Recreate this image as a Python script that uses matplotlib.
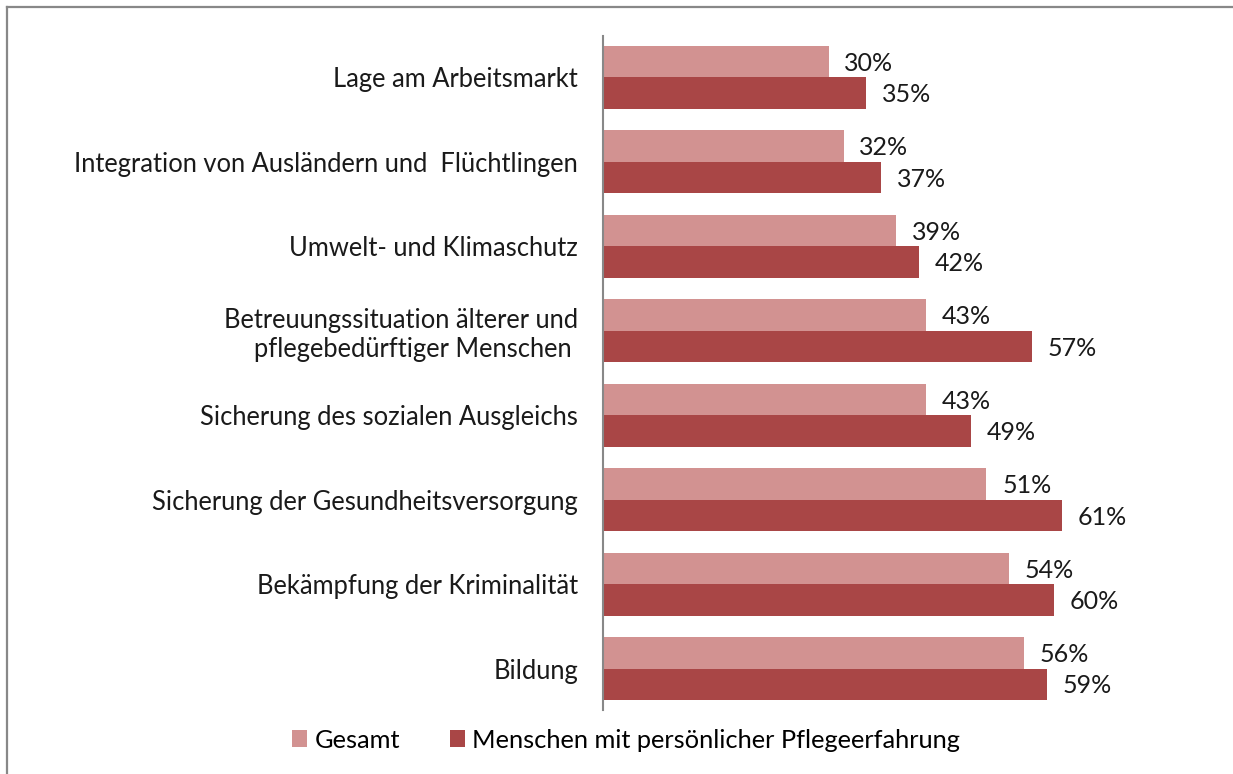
import matplotlib
matplotlib.use('Agg')
import matplotlib.pyplot as plt
import numpy as np

plt.rcParams['font.family'] = ['Lato', 'DejaVu Sans']

categories = [
    'Lage am Arbeitsmarkt',
    'Integration von Ausländern und  Flüchtlingen',
    'Umwelt- und Klimaschutz',
    'Betreuungssituation älterer und\npflegebedürftiger Menschen ',
    'Sicherung des sozialen Ausgleichs',
    'Sicherung der Gesundheitsversorgung',
    'Bekämpfung der Kriminalität',
    'Bildung',
]
gesamt = [30, 32, 39, 43, 43, 51, 54, 56]
pflege = [35, 37, 42, 57, 49, 61, 60, 59]
series_names = ['Gesamt', 'Menschen mit persönlicher Pflegeerfahrung']

c_light = '#D29291'
c_dark = '#A94646'

fig = plt.figure(figsize=(12.33, 7.74), dpi=100)
fig.patch.set_facecolor('white')

# frame line at top and left (as in the screenshot)
fig.add_artist(plt.Line2D([7 / 1233, 7 / 1233], [0, 1 - 7 / 774], color='#888888', lw=1.6))
fig.add_artist(plt.Line2D([7 / 1233, 1], [1 - 7 / 774, 1 - 7 / 774], color='#888888', lw=1.6))

ax = fig.add_axes([603 / 1233, 64 / 774, 630 / 1233, 674 / 774])

y = np.arange(len(categories))
h = 0.373
b1 = ax.barh(y - h / 2, gesamt, height=h, color=c_light, label=series_names[0])
b2 = ax.barh(y + h / 2, pflege, height=h, color=c_dark, label=series_names[1])

for bars, vals in [(b1, gesamt), (b2, pflege)]:
    for bar, v in zip(bars, vals):
        ax.text(bar.get_width() + 2.1, bar.get_y() + bar.get_height() / 2 + 0.02,
                f'{v}%', ha='left', va='center', fontsize=18, color='#1a1a1a')

ax.set_xlim(0, 83.8)
ax.set_ylim(len(categories) - 0.5085, -0.4915)
ax.set_yticks(y)
ax.set_yticklabels(categories, fontsize=18.4, color='#1a1a1a', linespacing=1.2)
ax.tick_params(axis='y', length=0, pad=18)
ax.set_xticks([])
for s in ['top', 'right', 'bottom']:
    ax.spines[s].set_visible(False)
ax.spines['left'].set_color('#888888')
ax.spines['left'].set_linewidth(1.5)

fig.legend(handles=[b1, b2], labels=series_names, loc='center', bbox_to_anchor=(626 / 1233, 1 - 740 / 774),
           ncol=2, frameon=False, fontsize=18.3, handlelength=0.6, handleheight=0.6,
           handletextpad=0.3, columnspacing=1.95)

plt.savefig('out.png', dpi=100, facecolor='white')
